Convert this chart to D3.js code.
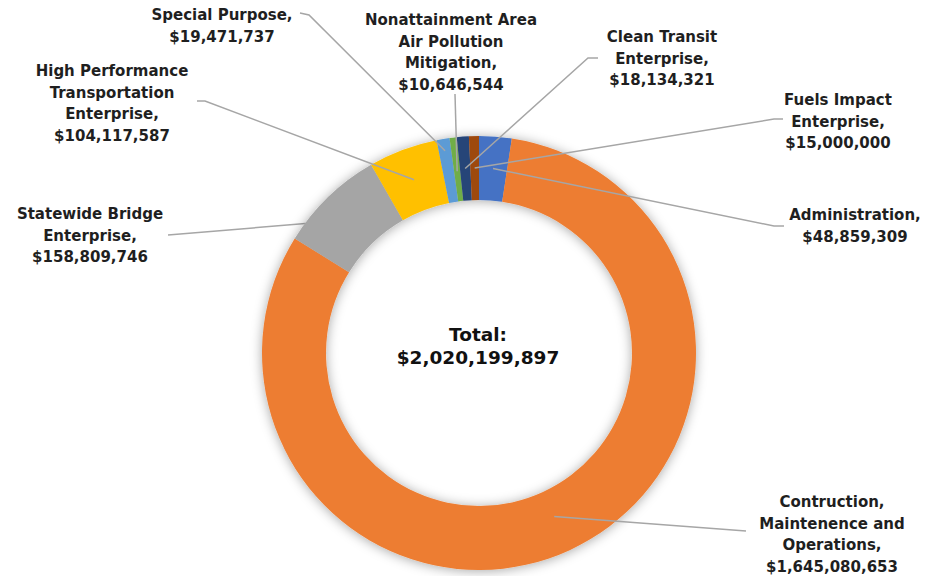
<!DOCTYPE html>
<html>
<head>
<meta charset="utf-8">
<script src="https://cdn.jsdelivr.net/npm/d3@7"></script>
<style>
  body { margin: 0; background: #fff; }
  svg { display: block; }
  .label text { font-family: "DejaVu Sans", Verdana, sans-serif; font-weight: bold; font-size: 15px; fill: #1f1f1f; }
  .total { font-family: "DejaVu Sans", Verdana, sans-serif; font-weight: bold; font-size: 18.5px; fill: #111; }
</style>
</head>
<body>
<svg id="chart" width="936" height="576"></svg>
<script>
// data, in the order Excel draws it (clockwise from 12 o'clock)
const categories = [
  ['Administration,'],
  ['Contruction,', 'Maintenence and', 'Operations,'],
  ['Statewide Bridge', 'Enterprise,'],
  ['High Performance', 'Transportation', 'Enterprise,'],
  ['Special Purpose,'],
  ['Nonattainment Area', 'Air Pollution', 'Mitigation,'],
  ['Clean Transit', 'Enterprise,'],
  ['Fuels Impact', 'Enterprise,']
];
const values = [48859309, 1645080653, 158809746, 104117587, 19471737, 10646544, 18134321, 15000000];
const statedTotal = 2020199897;
const colors = ['#4472c4', '#ed7d31', '#a5a5a5', '#ffc000', '#5b9bd5', '#70ad47', '#264478', '#9e480e'];

// label placement (x centre, first baseline, leader start, elbow, radius of leader end)
const labelLayout = [
  { x: 855, y: 220, start: [784, 226], elbow: [774, 226], r: 185 },
  { x: 832, y: 507, start: [746, 531], elbow: null, r: 180 },
  { x: 90,  y: 219, start: [168, 235], elbow: null, r: 185, under: true },
  { x: 112, y: 76,  start: [197, 101], elbow: [205, 101], r: 185 },
  { x: 222, y: 20,  start: [300, 13],  elbow: [309, 15], r: 205 },
  { x: 451, y: 25,  start: [455, 94],  elbow: null, r: 183 },
  { x: 662, y: 42,  start: [598, 58],  elbow: [588, 58], r: 185 },
  { x: 838, y: 105, start: [783, 119], elbow: [774, 119], r: 185 }
];

const width = 936, height = 576;
const cx = 479, cy = 353;
const outerR = 217, innerR = 153;
const lineH = 21.5;
const fmt = d3.format('$,');

const svg = d3.select('#chart');

const defs = svg.append('defs');
const shadow = defs.append('filter')
  .attr('id', 'ringShadow')
  .attr('x', '-20%').attr('y', '-20%')
  .attr('width', '140%').attr('height', '140%');
shadow.append('feDropShadow')
  .attr('dx', 0).attr('dy', 1)
  .attr('stdDeviation', 6)
  .attr('flood-color', '#000')
  .attr('flood-opacity', 0.35);

const pie = d3.pie().sort(null).value(d => d)
  .startAngle(0).endAngle(2 * Math.PI);
const arcs = pie(values);
const arc = d3.arc().innerRadius(innerR).outerRadius(outerR);

function polar(a, r) {
  return [cx + r * Math.sin(a), cy - r * Math.cos(a)];
}

function leaderPath(i) {
  const a = arcs[i];
  const L = labelLayout[i];
  const mid = (a.startAngle + a.endAngle) / 2;
  const pts = [L.start];
  if (L.elbow) pts.push(L.elbow);
  pts.push(polar(mid, L.r));
  return d3.line()(pts);
}

// leaders that sit beneath the ring
const underG = svg.append('g');
underG.selectAll('path')
  .data(d3.range(values.length).filter(i => labelLayout[i].under))
  .enter()
  .append('path')
  .attr('d', i => leaderPath(i))
  .attr('fill', 'none')
  .attr('stroke', '#a6a6a6')
  .attr('stroke-width', 1.5);

// ring
const ring = svg.append('g')
  .attr('transform', `translate(${cx},${cy})`)
  .attr('filter', 'url(#ringShadow)');

ring.selectAll('path')
  .data(arcs)
  .enter()
  .append('path')
  .attr('d', arc)
  .attr('fill', (d, i) => colors[i]);

// leaders over the ring
const overG = svg.append('g');
overG.selectAll('path')
  .data(d3.range(values.length).filter(i => !labelLayout[i].under))
  .enter()
  .append('path')
  .attr('d', i => leaderPath(i))
  .attr('fill', 'none')
  .attr('stroke', '#a6a6a6')
  .attr('stroke-width', 1.5);

// data labels
const labels = svg.append('g').attr('class', 'label')
  .selectAll('text')
  .data(values)
  .enter()
  .append('text')
  .attr('text-anchor', 'middle')
  .attr('x', (d, i) => labelLayout[i].x)
  .attr('y', (d, i) => labelLayout[i].y);

labels.each(function(d, i) {
  const lines = categories[i].concat([fmt(d)]);
  d3.select(this).selectAll('tspan')
    .data(lines)
    .enter()
    .append('tspan')
    .attr('x', labelLayout[i].x)
    .attr('dy', (t, j) => j === 0 ? 0 : lineH)
    .text(t => t);
});

// centre total
const total = svg.append('text')
  .attr('class', 'total')
  .attr('text-anchor', 'middle')
  .attr('x', cx - 1)
  .attr('y', 341);
total.append('tspan').attr('x', cx - 1).text('Total:');
total.append('tspan').attr('x', cx - 1).attr('dy', 23).text(fmt(statedTotal));
</script>
</body>
</html>
